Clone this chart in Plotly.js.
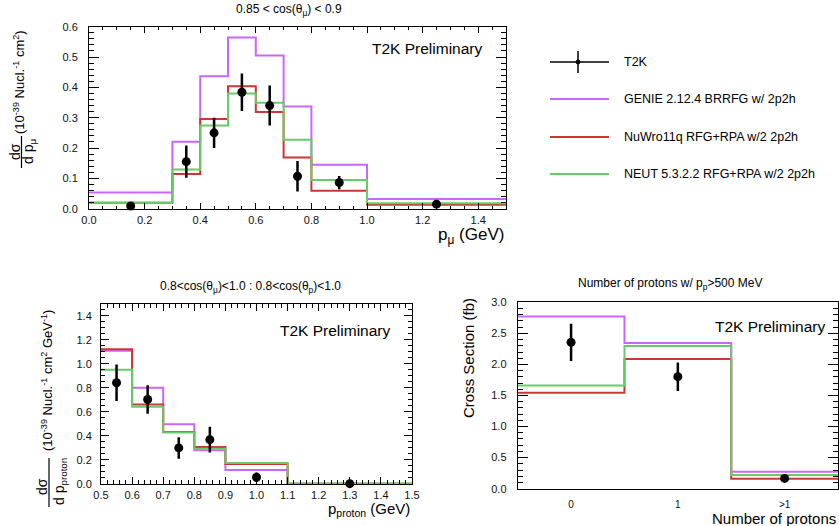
<!DOCTYPE html>
<html>
<head>
<meta charset="utf-8">
<script src="https://cdn.plot.ly/plotly-3.0.1.min.js"></script>
<style>html,body{margin:0;padding:0;background:#fff;}#chart{width:839px;height:526px;}</style>
</head>
<body>
<div id="chart"></div>
<script>
// ---------- data ----------
const seriesNames = ['T2K', 'GENIE 2.12.4 BRRFG w/ 2p2h', 'NuWro11q RFG+RPA w/2 2p2h', 'NEUT 5.3.2.2 RFG+RPA w/2 2p2h'];

// Panel 1: muon momentum, 0.85 < cos(theta_mu) < 0.9
const muEdges = [0, 0.3, 0.4, 0.5, 0.6, 0.7, 0.8, 1.0, 1.5];
const muGenie = [0.053, 0.221, 0.437, 0.564, 0.505, 0.337, 0.145, 0.032];
const muNuwro = [0.020, 0.114, 0.296, 0.404, 0.319, 0.169, 0.059, 0.013];
const muNeut  = [0.020, 0.129, 0.274, 0.380, 0.349, 0.227, 0.095, 0.018];
const muDataX = [0.15, 0.35, 0.45, 0.55, 0.65, 0.75, 0.9, 1.25];
const muData  = [0.009, 0.155, 0.250, 0.384, 0.340, 0.107, 0.086, 0.015];
const muErr   = [0.004, 0.053, 0.050, 0.062, 0.066, 0.050, 0.022, 0.006];

// Panel 2: proton momentum
const pEdges = [0.5, 0.6, 0.7, 0.8, 0.9, 1.1, 1.5];
const pGenie = [1.108, 0.800, 0.497, 0.280, 0.117, 0.003];
const pNuwro = [1.122, 0.661, 0.433, 0.308, 0.167, 0.002];
const pNeut  = [0.950, 0.642, 0.428, 0.294, 0.175, 0.004];
const pDataX = [0.55, 0.65, 0.75, 0.85, 1.0, 1.3];
const pData  = [0.842, 0.703, 0.300, 0.369, 0.056, 0.003];
const pErr   = [0.152, 0.118, 0.089, 0.107, 0.040, 0.004];

// Panel 3: number of protons
const nEdges  = [-0.5, 0.5, 1.5, 2.5];
const nPos    = [0, 1, 2];
const nLabels = ['0', '1', '>1'];
const nGenie  = [2.770, 2.346, 0.274];
const nNuwro  = [1.546, 2.088, 0.161];
const nNeut   = [1.659, 2.297, 0.220];
const nData   = [2.356, 1.803, 0.166];
const nErr    = [0.300, 0.230, 0.030];

// ---------- style ----------
const W = 839, H = 526;
const FONT = 'Liberation Sans, Arial, Helvetica, sans-serif';
const colors = ['#000000', '#c966ff', '#cf3434', '#66cc66'];
const px = v => v / W;
const py = v => 1 - v / H;

function step(edges, vals, xa, ya, color) {
  return {x: edges, y: vals.concat([vals[vals.length - 1]]), xaxis: xa, yaxis: ya,
    mode: 'lines', line: {shape: 'hv', color: color, width: 2}, hoverinfo: 'skip', showlegend: false};
}
function pts(x, y, e, xa, ya) {
  return {x: x, y: y, xaxis: xa, yaxis: ya, mode: 'markers', type: 'scatter',
    marker: {color: '#000', size: 9}, cliponaxis: false, showlegend: false,
    error_y: {type: 'data', array: e, visible: true, color: '#000', thickness: 2.5, width: 0}};
}

const traces = [
  step(muEdges, muGenie, 'x', 'y', colors[1]),
  step(muEdges, muNuwro, 'x', 'y', colors[2]),
  step(muEdges, muNeut, 'x', 'y', colors[3]),
  pts(muDataX, muData, muErr, 'x', 'y'),
  step(pEdges, pGenie, 'x2', 'y2', colors[1]),
  step(pEdges, pNuwro, 'x2', 'y2', colors[2]),
  step(pEdges, pNeut, 'x2', 'y2', colors[3]),
  pts(pDataX, pData, pErr, 'x2', 'y2'),
  step(nEdges, nGenie, 'x3', 'y3', colors[1]),
  step(nEdges, nNuwro, 'x3', 'y3', colors[2]),
  step(nEdges, nNeut, 'x3', 'y3', colors[3]),
  pts(nPos, nData, nErr, 'x3', 'y3')
];

function axis(domain, range, dtick, minorDtick, len, extra) {
  const a = {domain: domain, range: range, dtick: dtick, tick0: 0, showgrid: false, zeroline: false,
    showline: true, linecolor: '#000', linewidth: 1, mirror: 'allticks', ticks: 'inside',
    ticklen: len, tickwidth: 1, tickcolor: '#000', ticklabelstandoff: 1,
    tickfont: {family: FONT, size: 11, color: '#111'}, tickformat: '.1f', fixedrange: true,
    minor: {ticks: 'inside', ticklen: Math.round(len / 2), dtick: minorDtick, tickcolor: '#000', tickwidth: 1, showgrid: false}};
  return Object.assign(a, extra || {});
}

const layout = {
  width: W, height: H, margin: {l: 0, r: 0, t: 0, b: 0},
  paper_bgcolor: '#fff', plot_bgcolor: '#fff', showlegend: false,
  font: {family: FONT, color: '#000'},
  xaxis:  axis([px(89), px(506)], [0, 1.5], 0.2, 0.05, 6, {anchor: 'y'}),
  yaxis:  axis([py(208.7), py(26.7)], [0, 0.6], 0.1, 0.02, 10, {anchor: 'x', ticklabelstandoff: 8}),
  xaxis2: axis([px(101), px(412)], [0.5, 1.5], 0.1, 0.02, 7, {anchor: 'y2'}),
  yaxis2: axis([py(484), py(303.7)], [0, 1.5], 0.2, 0.05, 8, {anchor: 'x2', ticklabelstandoff: 6}),
  xaxis3: axis([px(517.7), px(838)], [-0.5, 2.5], 1, 1, 0, {anchor: 'y3', ticks: '', mirror: true,
    tickmode: 'array', tickvals: nPos, ticktext: nLabels, minor: {ticks: ''}, ticklabelstandoff: 6,
    tickfont: {family: FONT, size: 10, color: '#111'}}),
  yaxis3: axis([py(488.7), py(302.3)], [0, 3.0], 0.5, 0.1, 10, {anchor: 'x3', ticklabelstandoff: 8}),
  annotations: [],
  shapes: []
};

function ann(text, x, y, size, xanchor, yanchor, angle) {
  layout.annotations.push({text: text, x: px(x), y: py(y), xref: 'paper', yref: 'paper', showarrow: false,
    xanchor: xanchor || 'center', yanchor: yanchor || 'middle', textangle: angle || 0,
    font: {family: FONT, size: size, color: '#000'}});
}

// titles
ann('0.85 &lt; cos(θ<sub>μ</sub>) &lt; 0.9', 289, 10, 12);
ann('0.8&lt;cos(θ<sub>μ</sub>)&lt;1.0 : 0.8&lt;cos(θ<sub>p</sub>)&lt;1.0', 250, 287, 12);
ann('Number of protons w/ p<sub>p</sub>&gt;500 MeV', 670, 284, 12);
// T2K Preliminary
ann('T2K Preliminary', 484, 48, 15.5, 'right');
ann('T2K Preliminary', 392, 330, 15.5, 'right');
ann('T2K Preliminary', 827, 326, 15.5, 'right');
// x titles
ann('p<sub>μ</sub> (GeV)', 506, 236, 17, 'right');
ann('p<sub>proton</sub> (GeV)', 412, 509, 15, 'right');
ann('Number of protons', 838, 518, 15, 'right');
// y titles
ann('dσ', 15, 152, 14, 'center', 'middle', -90);
ann('d p<sub>μ</sub>', 29, 152, 14, 'center', 'middle', -90);
ann('(10<sup>-39</sup> Nucl.<sup>-1</sup> cm<sup>2</sup>)', 19, 82, 13, 'center', 'middle', -90);
layout.shapes.push({type: 'line', xref: 'paper', yref: 'paper', x0: px(21.5), x1: px(21.5), y0: py(136), y1: py(168), line: {color: '#000', width: 1.2}});
ann('dσ', 42, 487, 14, 'center', 'middle', -90);
ann('d p<sub>proton</sub>', 60, 482, 14, 'center', 'middle', -90);
ann('(10<sup>-39</sup> Nucl.<sup>-1</sup> cm<sup>2</sup> GeV<sup>-1</sup>)', 47, 381, 13, 'center', 'middle', -90);
layout.shapes.push({type: 'line', xref: 'paper', yref: 'paper', x0: px(49), x1: px(49), y0: py(458), y1: py(507), line: {color: '#000', width: 1.2}});
ann('Cross Section (fb)', 468, 358, 15, 'center', 'middle', -90);

// legend (drawn manually, ROOT style)
const legY = [62, 99, 137, 174];
seriesNames.forEach((name, i) => {
  ann(name, 622, legY[i], 12.5, 'left');
  layout.shapes.push({type: 'line', xref: 'paper', yref: 'paper', x0: px(550), x1: px(609), y0: py(legY[i]), y1: py(legY[i]),
    line: {color: colors[i], width: i === 0 ? 1.5 : 2}});
});
layout.shapes.push({type: 'line', xref: 'paper', yref: 'paper', x0: px(578), x1: px(578), y0: py(51), y1: py(73), line: {color: '#000', width: 1.5}});
layout.shapes.push({type: 'circle', xref: 'paper', yref: 'paper', x0: px(576), x1: px(580), y0: py(60), y1: py(64), fillcolor: '#000', line: {color: '#000', width: 1}});

Plotly.newPlot('chart', traces, layout, {displayModeBar: false, staticPlot: true});
</script>
</body>
</html>
